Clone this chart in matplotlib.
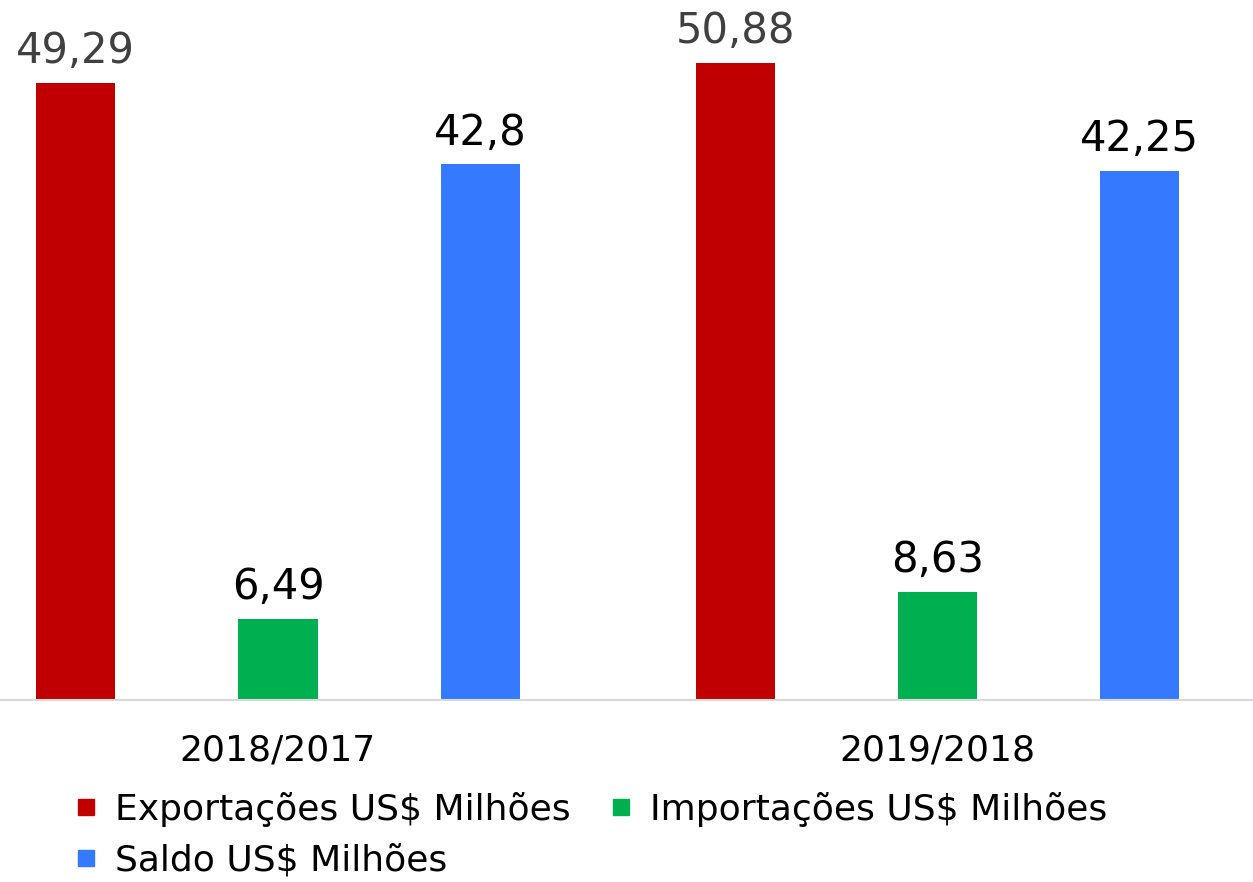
import matplotlib
matplotlib.use("Agg")
import numpy as np
import matplotlib.pyplot as plt
from matplotlib.lines import Line2D

plt.rcParams['font.family'] = ['DejaVu Sans']

# data
periods = ['2018/2017', '2019/2018']
series = ['Exportações US$ Milhões', 'Importações US$ Milhões', 'Saldo US$ Milhões']
exportacoes = [49.29, 50.88]
importacoes = [6.49, 8.63]
saldo = [42.8, 42.25]
labels_exp = ['49,29', '50,88']
labels_imp = ['6,49', '8,63']
labels_sal = ['42,8', '42,25']

colors = ['#C00000', '#00B050', '#3579FF']
label_colors = ['#404040', 'black', 'black']

fig = plt.figure(figsize=(12.53, 8.82), dpi=100)
ax = fig.add_axes([0, 182 / 882, 1, 700 / 882])

x = np.arange(len(periods))
offset = 0.3065
width = 0.12

for i, (vals, labs) in enumerate(zip([exportacoes, importacoes, saldo],
                                     [labels_exp, labels_imp, labels_sal])):
    pos = x + (i - 1) * offset
    ax.bar(pos, vals, width=width, color=colors[i], label=series[i], zorder=2)
    for xp, v, t in zip(pos, vals, labs):
        ax.annotate(t, xy=(xp, v), xytext=(0, 14), textcoords='offset points',
                    ha='center', va='baseline', fontsize=30,
                    color=label_colors[i])

ax.set_xlim(-278 / 659.5, (1253 - 278) / 659.5)
ax.set_ylim(0, 55.9)

for s in ['top', 'right', 'left']:
    ax.spines[s].set_visible(False)
ax.spines['bottom'].set_color('#d9d9d9')
ax.spines['bottom'].set_linewidth(1.5)
ax.set_yticks([])
ax.set_xticks(x)
ax.set_xticklabels(periods, fontsize=26)
ax.tick_params(axis='x', length=0, pad=24)

# legend, row-major order: Exp, Imp / Saldo
handles = [Line2D([], [], marker='s', linestyle='none', markersize=11,
                  color=c) for c in colors]
order = [0, 2, 1]
fig.legend([handles[k] for k in order], [series[k] for k in order],
           ncol=2, loc='upper left', bbox_to_anchor=(52 / 1253, 1 - 774 / 882),
           frameon=False, fontsize=26, handlelength=0.9, handletextpad=0.35,
           columnspacing=0.95, labelspacing=0.45, borderpad=0)

fig.savefig('out.png', dpi=100)
